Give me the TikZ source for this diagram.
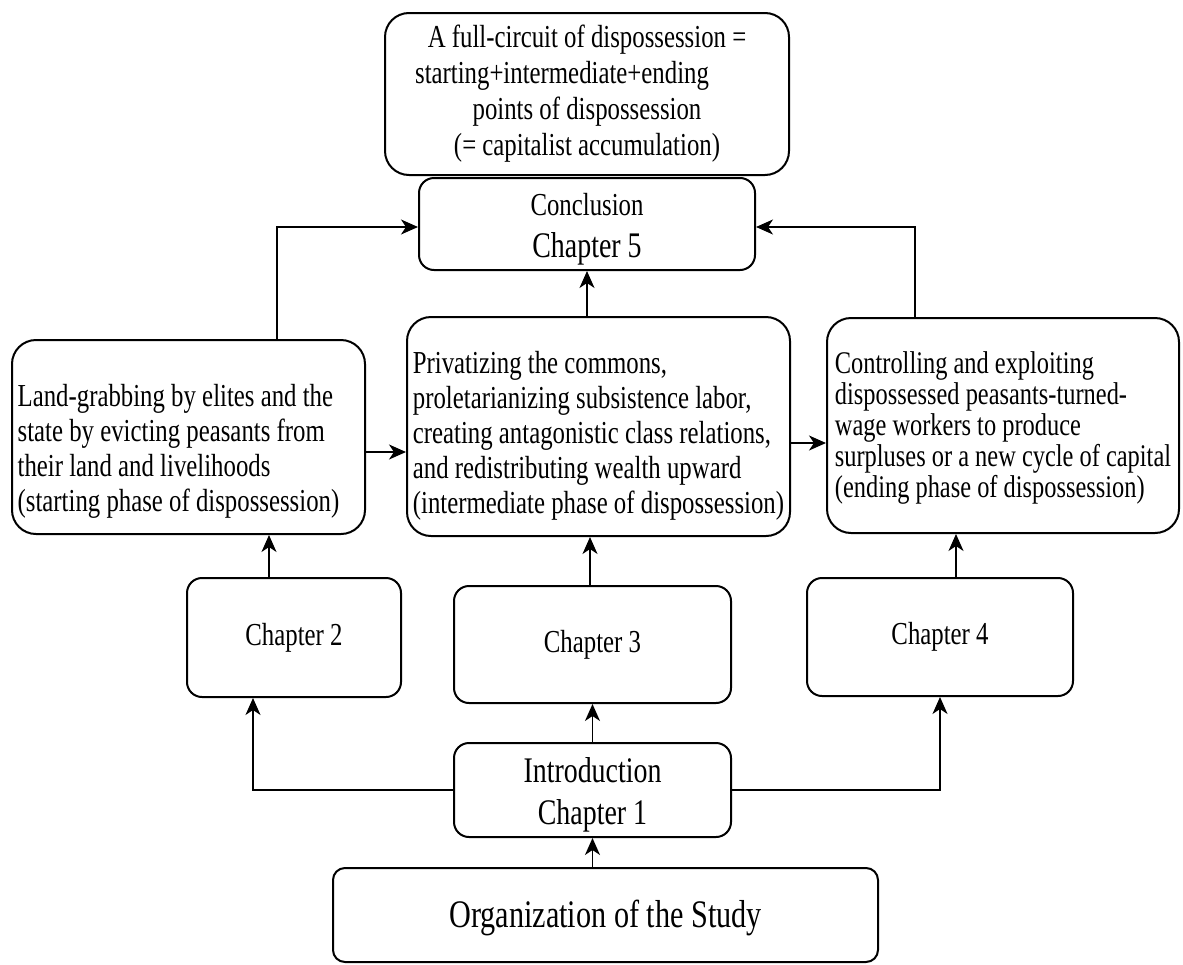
\documentclass[tikz,border=0pt]{standalone}
\usepackage{fontspec}
\setmainfont{Liberation Serif}[FakeStretch=0.775]
\usetikzlibrary{arrows.meta,calc}

\begin{document}
\begin{tikzpicture}[x=1pt,y=-1pt,
  box/.style={draw, line width=2pt, rounded corners=#1, inner sep=0pt},
  box/.default=24pt,
  body/.style={font=\fontsize{32}{35}\selectfont},
  big/.style={font=\fontsize{36}{42}\selectfont},
  arr/.style={line width=1.8pt, -{Stealth[length=17pt,width=15pt,inset=5pt]}}]

\useasboundingbox (0,0) rectangle (1183,964);

% result box and conclusion
\node[box, minimum width=404pt, minimum height=162pt, align=center,
      font=\fontsize{32}{36}\selectfont] (full) at (587,94)
  {A full-circuit of dispossession =\\
   starting+intermediate+ending\hspace{50pt}\mbox{}\\
   points of dispossession\\
   (= capitalist accumulation)};
\node[box=15pt, big, minimum width=336pt, minimum height=92pt, align=center] (concl) at (587,224)
  {\rule{0pt}{32pt}{\fontsize{32}{37}\selectfont Conclusion}\\
   Chapter 5};

% the three phases of dispossession (a strut on the first line lowers the text)
\node[box, body, minimum width=353pt, minimum height=194pt, align=left] (left) at (188.5,437)
  {\rule{0pt}{50pt}Land-grabbing by elites and the\\
   state by evicting peasants from\\
   their land and livelihoods\\
   (starting phase of dispossession)\hspace{20pt}\mbox{}};
\node[box, body, minimum width=383pt, minimum height=219pt, align=left] (mid) at (598.5,426.5)
  {\rule{0pt}{41pt}Privatizing the commons,\\
   proletarianizing subsistence labor,\\
   creating antagonistic class relations,\\
   and redistributing wealth upward\\
   (intermediate phase of dispossession)};
\node[box, minimum width=352pt, minimum height=215pt, align=left,
      font=\fontsize{31.5}{31}\selectfont] (right) at (1003,425.5)
  {\rule{0pt}{26pt}Controlling and exploiting\\
   dispossessed peasants-turned-\\
   wage workers to produce\\
   surpluses or a new cycle of capital\\
   (ending phase of dispossession)};

% chapters
\node[box=15pt, body, minimum width=214pt, minimum height=119pt] (ch2) at (294,637.5) {Chapter 2};
\node[box=15pt, body, minimum width=277pt, minimum height=117pt] (ch3) at (592.5,644.5) {Chapter 3};
\node[box=15pt, body, minimum width=266pt, minimum height=118pt] (ch4) at (940,637) {Chapter 4};
\node[box=15pt, big, minimum width=277pt, minimum height=94pt, align=center] (intro) at (592.5,790)
  {\rule{0pt}{34pt}Introduction\\Chapter 1};
\node[box=12pt, minimum width=545pt, minimum height=94pt, font=\fontsize{39}{45}\selectfont] (org) at (605.5,915)
  {\rule{0pt}{34pt}Organization of the Study};

% connector anchor points
\coordinate (c2in) at ([xshift=-41pt]ch2.south);
\coordinate (c2out) at ([xshift=-25pt]ch2.north);
\coordinate (c3out) at ([xshift=-2.5pt]ch3.north);
\coordinate (c4out) at ([xshift=16pt]ch4.north);
\coordinate (lout) at ([yshift=-15pt]left.east);
\coordinate (mout) at ([yshift=-16.5pt]mid.east);
\coordinate (lup) at ([xshift=88.5pt]left.north);
\coordinate (rup) at ([xshift=-88pt]right.north);
\coordinate (cw) at ([yshift=-3pt]concl.west);
\coordinate (ce) at ([yshift=-3pt]concl.east);

% connectors
\draw[arr] (org.north -| intro.south) -- (intro.south);
\draw[arr] (intro.north) -- (ch3.south);
\draw[arr] (intro.west) -| (c2in);
\draw[arr] (intro.east) -| (ch4.south);
\draw[arr] (c2out) -- (c2out |- left.south);
\draw[arr] (c3out) -- (c3out |- mid.south);
\draw[arr] (c4out) -- (c4out |- right.south);
\draw[arr] (lout) -- (lout -| mid.west);
\draw[arr] (mout) -- (mout -| right.west);
\draw[arr] (mid.north -| concl.south) -- (concl.south);
\draw[arr] (lup) |- (cw);
\draw[arr] (rup) |- (ce);
\end{tikzpicture}
\end{document}
